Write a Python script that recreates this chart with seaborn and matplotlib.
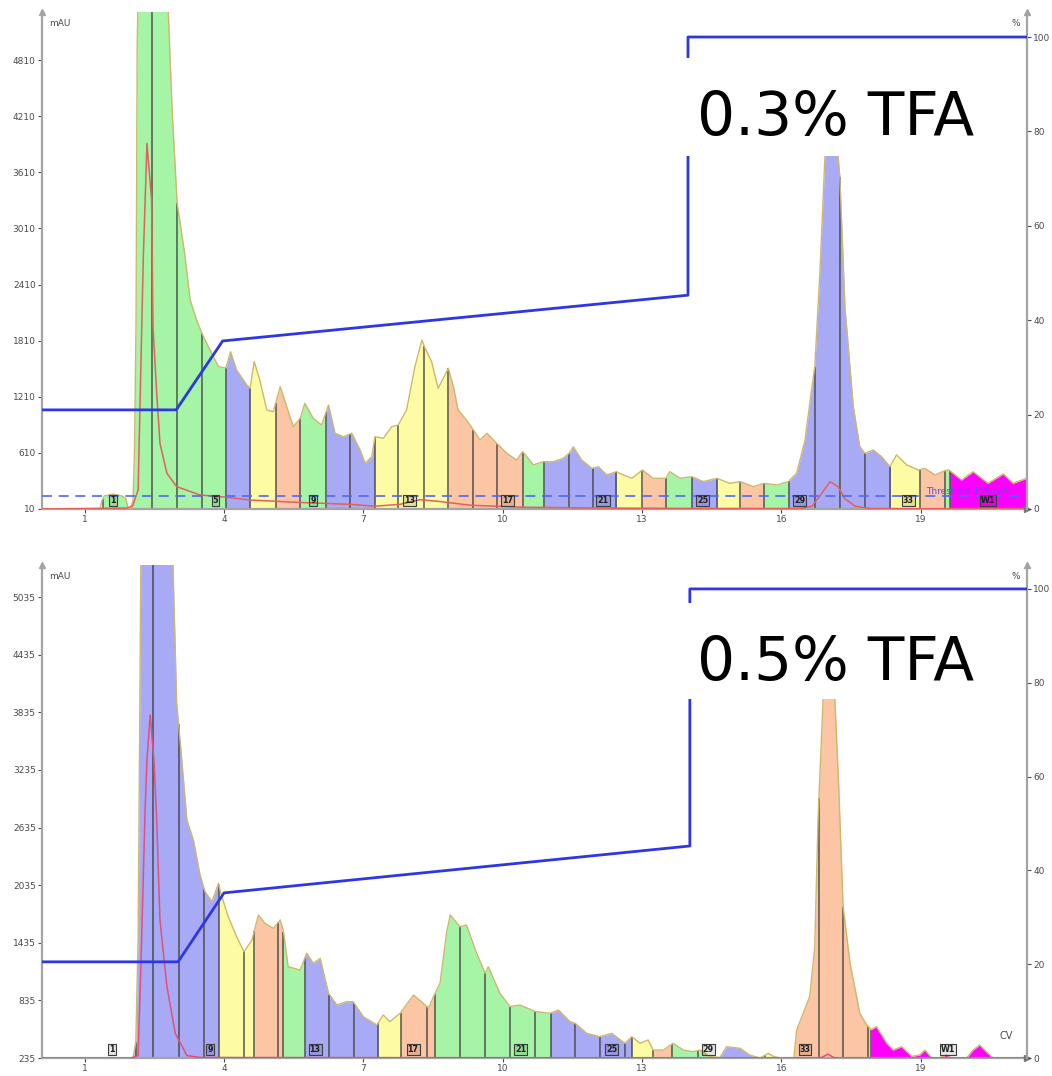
import numpy as np
import matplotlib.pyplot as plt
import seaborn as sns
from matplotlib.patches import Rectangle

# ---------------- 0.3% TFA run (top) ----------------
top_cv = [0.08, 1.33, 1.37, 1.42, 1.52, 1.61, 1.70, 1.80, 1.89, 1.93,
          1.98, 2.04, 2.07, 2.105, 2.13, 2.19, 2.45, 2.73, 2.80, 2.88,
          2.99, 3.15, 3.27, 3.41, 3.52, 3.70, 3.88, 4.04, 4.14, 4.27,
          4.49, 4.56, 4.65, 4.77, 4.92, 5.06, 5.21, 5.35, 5.49, 5.64,
          5.74, 5.92, 6.10, 6.25, 6.39, 6.57, 6.75, 6.93, 7.04, 7.18,
          7.25, 7.43, 7.61, 7.75, 7.93, 8.11, 8.26, 8.33, 8.47, 8.61,
          8.72, 8.83, 8.94, 9.04, 9.22, 9.37, 9.51, 9.66, 9.87, 10.09,
          10.30, 10.43, 10.52, 10.66, 10.87, 11.09, 11.30, 11.43, 11.52, 11.70,
          11.92, 12.06, 12.24, 12.45, 12.60, 12.78, 13.01, 13.24, 13.51, 13.60,
          13.82, 14.07, 14.32, 14.61, 14.89, 15.12, 15.40, 15.63, 15.90, 16.15,
          16.33, 16.51, 16.65, 16.72, 16.83, 16.94, 17.00, 17.08, 17.15, 17.22,
          17.26, 17.37, 17.55, 17.69, 17.80, 17.98, 18.16, 18.34, 18.48, 18.70,
          18.95, 19.09, 19.31, 19.52, 19.61, 19.88, 20.13, 20.45, 20.78, 20.99, 21.29]
top_mau = [10, 10, 100, 150, 160, 170, 160, 150, 120, 12,
           12, 100, 600, 2000, 5000, 6500, 7000, 6000, 5320, 4300,
           3280, 2750, 2245, 2031, 1892, 1710, 1532, 1518, 1692, 1497,
           1336, 1300, 1585, 1390, 1069, 1050, 1318, 1104, 890, 980,
           1140, 980, 908, 1122, 820, 783, 820, 641, 499, 569,
           783, 766, 890, 908, 1069, 1532, 1817, 1729, 1585, 1301,
           1408, 1515, 1318, 1069, 962, 855, 748, 820, 713, 605,
           534, 623, 569, 481, 516, 516, 552, 605, 676, 534,
           445, 463, 374, 409, 374, 338, 427, 338, 338, 409,
           338, 356, 303, 338, 285, 303, 249, 285, 267, 303,
           392, 748, 1283, 1532, 2531, 3796, 4400, 4600, 4400, 3800,
           3564, 2174, 1104, 676, 605, 641, 569, 463, 588, 481,
           427, 445, 374, 420, 427, 320, 409, 285, 385, 285, 340]
top_ref_cv = [0.08, 1.90, 2.03, 2.15, 2.26, 2.34, 2.44, 2.47, 2.55, 2.62,
              2.77, 2.98, 3.48, 4.06, 4.56, 5.64, 6.71, 7.25, 7.79, 8.22,
              8.65, 9.30, 10.37, 12.09, 14.25, 16.40, 16.66, 16.83, 17.05, 17.22,
              17.37, 17.59, 17.91, 21.29]
top_ref_mau = [10, 20, 40, 213, 2673, 3921, 3315, 1960, 1247, 713,
               392, 249, 160, 135, 106, 80, 60, 40, 60, 110,
               90, 50, 30, 20, 15, 15, 40, 150, 302, 250,
               120, 40, 15, 10]
top_edges = [1.39, 1.93, 2.45, 2.99, 3.52, 4.04, 4.56, 5.11, 5.64, 6.20,
             6.71, 7.25, 7.75, 8.31, 8.83, 9.37, 9.88, 10.43, 10.89, 11.43,
             11.94, 12.45, 13.01, 13.51, 14.07, 14.62, 15.12, 15.63, 16.17, 16.72,
             17.26, 17.80, 18.35, 18.98, 19.52, 19.63, 21.29]
top_colors = "GGGGGBYOGBBYYYOOOGBBBYOGBYOGBBBBYOGM"
top_label_cv = [1.61, 3.81, 5.92, 8.00, 10.11, 12.16, 14.31, 16.40, 18.73, 20.45]
top_label_txt = ["1", "5", "9", "13", "17", "21", "25", "29", "33", "W1"]
top_grad_cv = [0.08, 2.97, 3.97, 13.99, 13.99, 21.29]
top_grad_pct = [21.0, 21.0, 35.6, 45.3, 100, 100]
top_threshold = 150

# ---------------- 0.5% TFA run (bottom) ----------------
bot_cv = [0.08, 2.04, 2.10, 2.15, 2.18, 2.21, 2.51, 2.83, 2.90, 2.98,
          3.09, 3.20, 3.34, 3.48, 3.59, 3.74, 3.88, 3.93, 4.09, 4.27,
          4.43, 4.60, 4.74, 4.88, 5.06, 5.21, 5.28, 5.38, 5.64, 5.78,
          5.92, 6.07, 6.25, 6.43, 6.64, 6.78, 7.00, 7.29, 7.43, 7.57,
          7.79, 8.08, 8.29, 8.40, 8.51, 8.65, 8.79, 8.87, 9.08, 9.22,
          9.44, 9.62, 9.69, 9.94, 10.16, 10.37, 10.70, 11.02, 11.20, 11.45,
          11.56, 11.81, 12.09, 12.35, 12.63, 12.78, 12.96, 13.13, 13.24, 13.46,
          13.67, 13.89, 14.10, 14.25, 14.46, 14.68, 14.82, 15.11, 15.32, 15.54,
          15.72, 15.83, 15.97, 16.27, 16.33, 16.47, 16.61, 16.72, 16.79, 16.90,
          16.96, 17.02, 17.09, 17.15, 17.23, 17.33, 17.48, 17.69, 17.84, 17.94,
          17.98, 18.05, 18.27, 18.41, 18.59, 18.81, 18.98, 19.09, 19.24, 19.41,
          19.56, 19.67, 19.99, 20.13, 20.27, 20.42, 20.56, 21.29]
bot_mau = [235, 235, 400, 1500, 3500, 5500, 7000, 6000, 5370, 3930,
           3339, 2714, 2506, 2150, 1967, 1863, 2055, 1951, 1707, 1499,
           1342, 1464, 1725, 1638, 1586, 1673, 1551, 1186, 1152, 1326,
           1221, 1273, 909, 787, 822, 822, 665, 579, 683, 613,
           700, 891, 805, 753, 874, 1013, 1534, 1725, 1603, 1620,
           1326, 1117, 1186, 909, 770, 787, 720, 700, 735, 613,
           596, 492, 457, 492, 388, 457, 388, 423, 318, 318,
           388, 318, 301, 318, 250, 240, 353, 336, 266, 235,
           283, 252, 235, 235, 527, 700, 874, 1395, 2714, 3982,
           4500, 4700, 4500, 4000, 3131, 1811, 1221, 700, 579, 530,
           544, 561, 388, 318, 353, 252, 266, 318, 235, 240,
           266, 235, 235, 318, 370, 297, 235, 235]
bot_ref_cv = [0.08, 2.00, 2.15, 2.21, 2.30, 2.34, 2.41, 2.49, 2.55, 2.62,
              2.77, 2.95, 3.20, 3.48, 16.80, 16.87, 17.00, 17.13, 17.20, 21.29]
bot_ref_mau = [235, 235, 260, 1200, 2818, 3339, 3808, 3339, 2714, 1673,
               978, 492, 260, 240, 235, 240, 275, 240, 235, 235]
bot_edges = [1.39, 2.10, 2.48, 3.02, 3.57, 3.89, 4.42, 4.65, 5.17, 5.28,
             5.74, 6.27, 6.80, 7.32, 7.80, 8.36, 8.54, 9.08, 9.62, 10.16,
             10.70, 11.03, 11.56, 12.09, 12.63, 12.78, 13.24, 13.64, 14.21, 14.68,
             15.65, 15.97, 16.27, 16.81, 17.33, 17.87, 17.94, 21.29]
bot_colors = "BBBBBYYOOGBBBYOOGGGGGBBBBYOGGBYOOOOOM"
bot_label_cv = [1.59, 3.70, 5.96, 8.07, 10.39, 12.35, 14.43, 16.51, 19.59]
bot_label_txt = ["1", "9", "13", "17", "21", "25", "29", "33", "W1"]
bot_grad_cv = [0.08, 3.01, 4.00, 14.03, 14.03, 21.29]
bot_grad_pct = [20.5, 20.5, 35.2, 45.2, 100, 100]

FILL = {"G": "#a6f5a6", "B": "#a9aaf5", "Y": "#fdfca4", "O": "#fcc5a3", "M": "#ff00ff"}
AXIS_GREY = "#a4a4a4"
TXT_GREY = "#4a4a4a"

sns.set_theme(style="white")
plt.rcParams["font.family"] = ["DejaVu Sans"]

fig = plt.figure(figsize=(10.52, 10.76), dpi=100)
W, H = 1052, 1076


def draw_run(ax_box, cv, mau, ref_cv, ref_mau, ref_color, edges, colors,
             lab_cv, lab_txt, grad_cv, grad_pct, ylim, pct_top, yticks,
             title, title_base, box_px, threshold=None, cv_label=False):
    left, top, right, bottom = ax_box
    ax = fig.add_axes([left / W, 1 - bottom / H, (right - left) / W, (bottom - top) / H])
    cv = np.asarray(cv, float)
    mau = np.asarray(mau, float)

    # coloured fraction fills
    for a, b, c in zip(edges[:-1], edges[1:], colors):
        inside = (cv > a) & (cv < b)
        xs = np.concatenate([[a], cv[inside], [b]])
        ys = np.interp(xs, cv, mau)
        ax.fill_between(xs, ylim[0], ys, color=FILL[c], lw=0, zorder=1)
    # fraction cut marks
    for e in edges[:-1]:
        ax.vlines(e, ylim[0], np.interp(e, cv, mau), color="#3a3a3a", lw=1.1,
                  alpha=0.85, zorder=2)

    sns.lineplot(x=cv, y=mau, ax=ax, color="#cdb86e", lw=1.0, sort=False,
                 estimator=None, zorder=3)
    sns.lineplot(x=ref_cv, y=ref_mau, ax=ax, color=ref_color, lw=1.1, sort=False,
                 estimator=None, zorder=4)

    if threshold is not None:
        ax.axhline(threshold, color="#5468ee", lw=1.2, ls=(0, (6, 4)), zorder=4)
        ax.text(19.12, threshold + 45, "Threshold 150 mAU", color="#4b57e6",
                fontsize=6.5, va="center", ha="left", zorder=6)

    for x, t in zip(lab_cv, lab_txt):
        ax.text(x, ylim[0] + (ylim[1] - ylim[0]) * 0.018, t, fontsize=5.8,
                fontweight="bold", ha="center", va="center", color="#1e1e1e", zorder=6,
                bbox=dict(boxstyle="square,pad=0.12", fc=(0, 0, 0, 0.10),
                          ec="#3c3c3c", lw=0.8))

    ax.set_xlim(0.08, 21.29)
    ax.set_ylim(*ylim)
    ax.set_xticks([1, 4, 7, 10, 13, 16, 19])
    ax.set_yticks(yticks)
    ax.set_xlabel("")
    ax.set_ylabel("")
    ax.tick_params(axis="both", labelsize=6.5, colors=TXT_GREY, length=3, width=0.8,
                   left=True, bottom=True, pad=1.5)
    for s in ["top", "right"]:
        ax.spines[s].set_visible(False)
    for s in ["left", "bottom"]:
        ax.spines[s].set_color(AXIS_GREY)
        ax.spines[s].set_linewidth(1.6)
    ax.plot([0], [1], marker="^", ms=5, color=AXIS_GREY, transform=ax.transAxes,
            clip_on=False, zorder=7)
    ax.plot([1], [0], marker=">", ms=5, color="#777777", transform=ax.transAxes,
            clip_on=False, zorder=7)
    ax.text(0.007, 0.985, "mAU", transform=ax.transAxes, fontsize=6.5,
            color=TXT_GREY, va="top", ha="left")
    if cv_label:
        ax.text(0.986, 0.035, "CV", transform=ax.transAxes, fontsize=7,
                color=TXT_GREY, va="bottom", ha="right")

    # gradient (% B) on the right axis
    ax2 = ax.twinx()
    sns.lineplot(x=grad_cv, y=grad_pct, ax=ax2, color="#2f37e2", lw=2.0, sort=False,
                 estimator=None, zorder=5)
    ax2.set_ylim(0, pct_top)
    ax2.set_yticks([0, 20, 40, 60, 80, 100])
    ax2.set_ylabel("")
    ax2.tick_params(axis="y", labelsize=6.5, colors=TXT_GREY, length=3, width=0.8,
                    right=True, pad=1.5)
    for s in ["top", "left", "bottom"]:
        ax2.spines[s].set_visible(False)
    ax2.spines["right"].set_color(AXIS_GREY)
    ax2.spines["right"].set_linewidth(1.6)
    ax2.plot([1], [1], marker="^", ms=5, color=AXIS_GREY, transform=ax2.transAxes,
             clip_on=False, zorder=7)
    ax2.text(0.993, 0.985, "%", transform=ax2.transAxes, fontsize=6.5,
             color=TXT_GREY, va="top", ha="right")

    # white label box with the TFA note
    bx0, by0, bx1, by1 = box_px
    fig.patches.append(Rectangle((bx0 / W, 1 - by1 / H), (bx1 - bx0) / W, (by1 - by0) / H,
                                 transform=fig.transFigure, fc="white", ec="none", zorder=8))
    fig.text(697 / W, 1 - title_base / H, title, fontsize=43, color="black",
             ha="left", va="baseline", zorder=9)


draw_run((42, 12, 1027, 509), top_cv, top_mau, top_ref_cv, top_ref_mau, "#e2605e",
         top_edges, top_colors, top_label_cv, top_label_txt, top_grad_cv, top_grad_pct,
         (10, 5325), 105.3, [10, 610, 1210, 1810, 2410, 3010, 3610, 4210, 4810],
         "0.3% TFA", 135, (686, 58, 1008, 156), threshold=top_threshold)

draw_run((42, 565, 1027, 1058), bot_cv, bot_mau, bot_ref_cv, bot_ref_mau, "#e0507c",
         bot_edges, bot_colors, bot_label_cv, bot_label_txt, bot_grad_cv, bot_grad_pct,
         (235, 5370), 105.1, [235, 835, 1435, 2035, 2635, 3235, 3835, 4435, 5035],
         "0.5% TFA", 680, (688, 603, 1008, 699), cv_label=True)

fig.savefig("out.png", dpi=100)
